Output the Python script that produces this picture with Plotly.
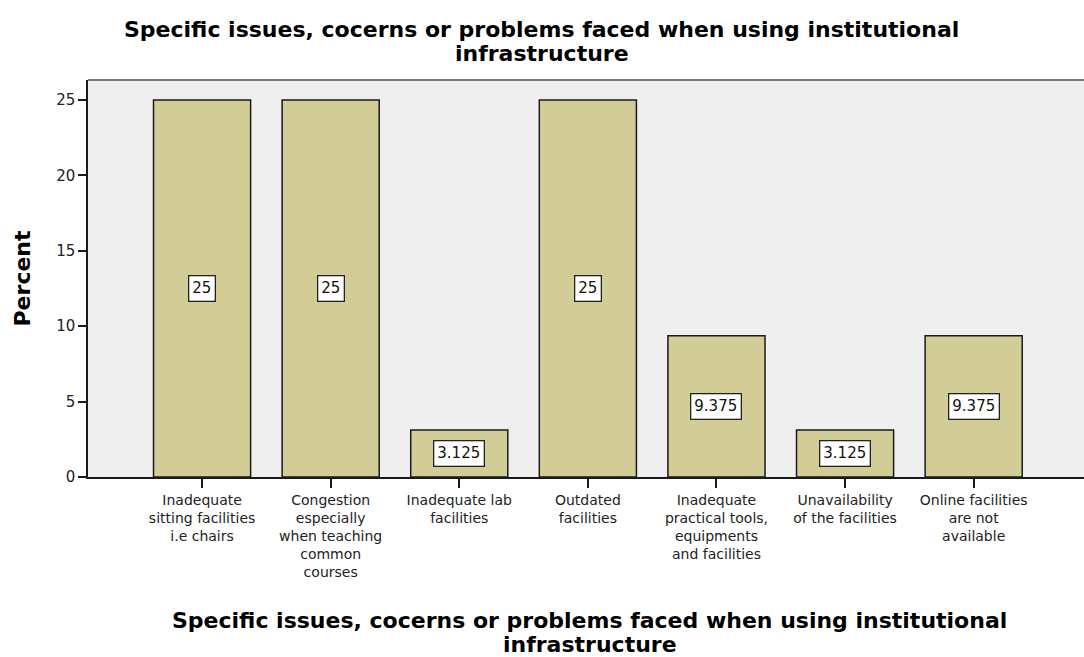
import plotly.graph_objects as go

categories = [
    "Inadequate<br>sitting facilities<br>i.e chairs",
    "Congestion<br>especially<br>when teaching<br>common<br>courses",
    "Inadequate lab<br>facilities",
    "Outdated<br>facilities",
    "Inadequate<br>practical tools,<br>equipments<br>and facilities",
    "Unavailability<br>of the facilities",
    "Online facilities<br>are not<br>available",
]
percent = [25, 25, 3.125, 25, 9.375, 3.125, 9.375]
label_text = ["25", "25", "3.125", "25", "9.375", "3.125", "9.375"]
y_ticks = [0, 5, 10, 15, 20, 25]

title_lines = ["Specific issues, cocerns or problems faced when using institutional",
               "infrastructure"]

FONT = "DejaVu Sans"

fig = go.Figure()
fig.add_trace(go.Bar(
    x=list(range(len(categories))),
    y=percent,
    width=0.755,
    marker=dict(color="#D2CD97", line=dict(color="#1a1a1a", width=1.5)),
    hoverinfo="skip",
))

for i, (v, t) in enumerate(zip(percent, label_text)):
    fig.add_annotation(
        x=i, y=v / 2, xref="x", yref="y", text=t, showarrow=False,
        font=dict(family=FONT, size=15, color="#111"),
        bgcolor="white", bordercolor="#222", borderwidth=1.3, borderpad=3,
    )

# chart title (two lines, tight spacing)
for j, line in enumerate(title_lines):
    fig.add_annotation(
        x=0.4555, y=1.0, xref="paper", yref="paper", yanchor="middle",
        yshift=51 - 24 * j, text="<b>" + line + "</b>", showarrow=False,
        font=dict(family=FONT, size=22, color="#000"),
    )
    fig.add_annotation(
        x=0.504, y=0, xref="paper", yref="paper", yanchor="middle",
        yshift=-143 - 24 * j, text="<b>" + line + "</b>", showarrow=False,
        font=dict(family=FONT, size=22, color="#000"),
    )

fig.add_annotation(
    x=0, y=0.5, xref="paper", yref="paper", xanchor="center", xshift=-66,
    text="<b>Percent</b>", textangle=-90, showarrow=False,
    font=dict(family=FONT, size=22, color="#000"),
)

# top border of plot frame
fig.add_shape(type="line", xref="paper", yref="paper", x0=0, x1=1, y0=1, y1=1,
              line=dict(color="#7a7a7a", width=2))

fig.update_layout(
    width=1084, height=657,
    margin=dict(l=88, r=0, t=80, b=180),
    paper_bgcolor="white",
    plot_bgcolor="#EFEFEF",
    showlegend=False,
    font=dict(family=FONT, size=14, color="#222"),
    xaxis=dict(
        tickmode="array", tickvals=list(range(len(categories))), ticktext=categories,
        range=[-0.887, 6.858], showgrid=False, zeroline=False,
        showline=True, linecolor="#1a1a1a", linewidth=1.5,
        ticks="outside", ticklen=9, tickwidth=1.5, tickcolor="#1a1a1a",
        tickangle=0, tickfont=dict(family=FONT, size=14, color="#222"),
    ),
    yaxis=dict(
        tickmode="array", tickvals=y_ticks, ticktext=[str(v) for v in y_ticks],
        range=[0, 26.33], showgrid=False, zeroline=False,
        showline=True, linecolor="#1a1a1a", linewidth=1.5,
        ticks="outside", ticklen=8, tickwidth=1.5, tickcolor="#1a1a1a",
        tickfont=dict(family=FONT, size=15, color="#222"),
    ),
)

fig.write_html("out.html")
